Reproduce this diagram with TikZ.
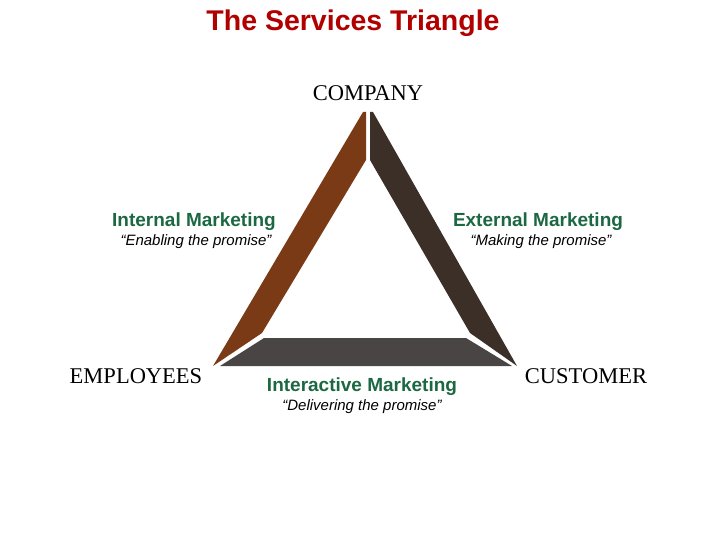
\documentclass[tikz,border=0pt]{standalone}
\usepackage{fontspec}
\setmainfont{Liberation Serif}
\setsansfont{Liberation Sans}
\usepackage{tikz}
\usetikzlibrary{positioning}

\definecolor{titlered}{RGB}{176,0,0}
\definecolor{mktgreen}{RGB}{28,104,66}
\definecolor{intbrown}{RGB}{122,58,22}
\definecolor{extbrown}{RGB}{60,47,40}
\definecolor{actgray}{RGB}{74,69,69}

\begin{document}
\begin{tikzpicture}[x=1pt,y=-1pt,
    party/.style={inner sep=0pt, anchor=base, font=\rmfamily\fontsize{22.5}{24}\selectfont},
    mktg/.style={inner sep=0pt, anchor=base, text=mktgreen, font=\sffamily\bfseries\fontsize{19}{21}\selectfont},
    promise/.style={inner sep=0pt, anchor=base, font=\sffamily\itshape\fontsize{15}{17}\selectfont}]
    \useasboundingbox (0,0) rectangle (720,540);

    % the three sides
    \fill[intbrown] (363,112) -- (366,112) -- (366,160) -- (262,333) -- (213,366) -- cycle;
    \fill[extbrown] (370,112) -- (373,112) -- (517,366) -- (470,333) -- (370,160) -- cycle;
    \fill[actgray] (264,338) -- (466,338) -- (512,366) -- (220,366) -- cycle;

    \node[inner sep=0pt, anchor=base, text=titlered, font=\sffamily\bfseries\fontsize{28.5}{31}\selectfont] (title) at (353,31) {The Services Triangle};

    \node[party] (company) at (368,101) {COMPANY};
    \node[party] (employees) at (136,383) {EMPLOYEES};
    \node[party] (customer) at (586,383) {CUSTOMER};

    \node[mktg] (internal) at (194,226) {Internal Marketing};
    \node[promise] (enabling) at (196,245) {“Enabling the promise”};
    \node[mktg] (external) at (538,226) {External Marketing};
    \node[promise] (making) at (541,245) {“Making the promise”};
    \node[mktg] (interactive) at (362,391) {Interactive Marketing};
    \node[promise] (delivering) at (362,410) {“Delivering the promise”};
\end{tikzpicture}
\end{document}
